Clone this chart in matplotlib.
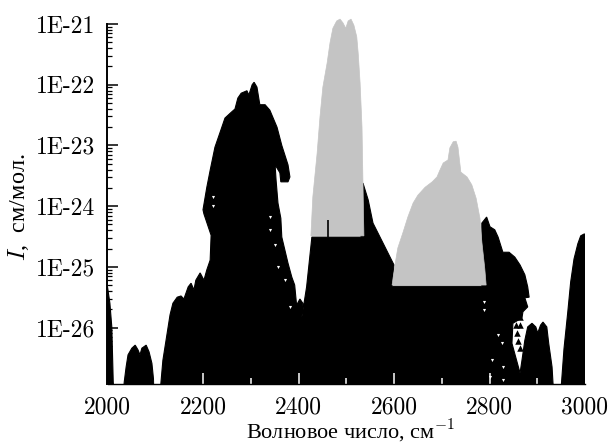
import numpy as np
import matplotlib
matplotlib.use('Agg')
import matplotlib.pyplot as plt
from matplotlib.ticker import FixedLocator, NullFormatter

plt.rcParams['mathtext.fontset'] = 'cm'

# outlines of the line clouds, wavenumber and log10(intensity)
black_x = [2000, 2000, 2005, 2009, 2012, 2013, 2034, 2035, 2039, 2043, 2051, 2058, 2064, 2068, 2072, 2081, 2087, 2093, 2097, 2098,
           2111, 2112, 2116, 2125, 2131, 2137, 2146, 2154, 2160, 2169, 2175, 2181, 2185, 2194, 2202, 2208, 2215, 2217, 2202,
           2200, 2208, 2215, 2225, 2236, 2246, 2257, 2267, 2273, 2280, 2292, 2296, 2303, 2307, 2313, 2319, 2330, 2340, 2355,
           2365, 2378, 2382, 2378, 2363, 2361, 2351, 2353, 2357, 2363, 2365, 2378, 2386, 2392, 2396, 2403, 2409, 2407, 2417, 2428,
           2531, 2535, 2546, 2556, 2579, 2600, 2596, 2784, 2784, 2794, 2801, 2811, 2818, 2828, 2841, 2853, 2864, 2874, 2880, 2883,
           2874, 2880, 2870, 2868, 2849, 2847, 2864, 2868, 2874, 2880, 2889, 2897, 2901, 2907, 2912, 2920, 2924, 2931, 2933, 2935,
           2950, 2956, 2964, 2970, 2977, 2985, 2991, 2998, 3000, 3000]
black_e = [-27, -25.33, -25.60, -25.99, -26.9, -27, -27, -26.9, -26.65, -26.45, -26.34, -26.29, -26.37, -26.45, -26.34, -26.29, -26.40, -26.59, -26.9, -27,
           -27, -26.9, -26.54, -26.09, -25.79, -25.60, -25.50, -25.48, -25.53, -25.33, -25.27, -25.38, -25.22, -25.10, -25.22, -25.05, -24.89, -24.48, -24.13,
           -24.06, -23.69, -23.41, -23.03, -22.78, -22.55, -22.47, -22.40, -22.22, -22.14, -22.10, -22.17, -22.00, -21.96, -22.04, -22.33, -22.33, -22.42, -22.70,
           -23.00, -23.32, -23.52, -23.60, -23.60, -23.45, -23.32, -23.57, -23.95, -24.20, -24.51, -24.94, -25.17, -25.30, -25.63, -25.53, -25.60, -25.83, -25.33, -24.51,
           -24.51, -23.62, -23.90, -24.28, -24.64, -24.97, -25.32, -25.32, -24.28, -24.18, -24.34, -24.39, -24.51, -24.76, -24.76, -24.84, -24.97, -25.13, -25.33, -25.50,
           -25.51, -25.66, -25.74, -25.84, -25.93, -26.26, -26.75, -26.54, -26.21, -25.99, -25.93, -25.99, -26.09, -25.96, -25.91, -25.99, -26.26, -26.65, -26.92, -27,
           -27, -26.35, -25.74, -25.25, -24.87, -24.62, -24.49, -24.46, -24.46, -27]

gray1_x = [2426, 2430, 2439, 2445, 2451, 2460, 2466, 2472, 2480, 2487, 2493, 2499, 2504, 2510, 2516, 2522, 2525, 2529, 2533, 2535, 2537]
gray1_e = [-24.49, -23.85, -23.13, -22.53, -22.04, -21.64, -21.31, -21.07, -20.95, -20.92, -20.98, -21.07, -20.95, -20.92,
           -21.02, -21.21, -21.48, -21.97, -22.70, -23.62, -24.49]
gray2_x = [2596, 2602, 2608, 2619, 2629, 2640, 2650, 2665, 2680, 2690, 2696, 2703, 2713, 2717, 2724, 2730, 2734, 2740, 2753, 2763,
           2772, 2780, 2784, 2790, 2793]
gray2_e = [-25.30, -24.97, -24.69, -24.43, -24.18, -23.95, -23.82, -23.69, -23.60, -23.52, -23.41, -23.29, -23.24, -23.04, -22.94,
           -22.93, -23.03, -23.44, -23.52, -23.65, -23.87, -24.20, -24.59, -25.02, -25.30]

# single lines that stand apart at the edge of the cloud
tri_x = [2864, 2864, 2855, 2857, 2860, 2864]
tri_e = [-25.83, -25.96, -25.96, -26.09, -26.22, -26.34]
# thin black spike showing through the gray band
spike_x = [2462]
spike_lo = [-24.51]
spike_hi = [-24.23]
# holes in the cloud
gap_x = [2221, 2221, 2340, 2340, 2351, 2357, 2372, 2382, 2788, 2788, 2818, 2826, 2805, 2828, 2801, 2828]
gap_e = [-23.85, -24.0, -24.18, -24.39, -24.64, -25.00, -25.21, -25.66, -25.71, -25.58, -26.12, -26.26, -26.53, -26.65, -26.82, -26.87]

x_major = [2000, 2200, 2400, 2600, 2800, 3000]
x_minor = [2100, 2300, 2500, 2700, 2900]
y_major = [1e-21, 1e-22, 1e-23, 1e-24, 1e-25, 1e-26]
y_labels = ['1E-21', '1E-22', '1E-23', '1E-24', '1E-25', '1E-26']


def to_i(e):
    return 10.0 ** np.array(e)


fig = plt.figure(figsize=(6.12, 4.45), dpi=100)
ax = fig.add_axes([107.5 / 612, (445 - 384) / 445, 477.5 / 612, 367 / 445])
ax.set_yscale('log')

ax.fill(black_x, to_i(black_e), color='black', lw=0.8, zorder=1)
ax.fill(gray1_x, to_i(gray1_e), color='#c4c4c4', lw=0.5, zorder=2)
ax.fill(gray2_x, to_i(gray2_e), color='#c4c4c4', lw=0.5, zorder=2)
ax.vlines(spike_x, to_i(spike_lo), to_i(spike_hi), color='black', lw=1.2, zorder=3)
ax.scatter(tri_x, to_i(tri_e), marker='^', s=22, color='black', lw=0, zorder=3)
ax.scatter(gap_x, to_i(gap_e), marker='v', s=5, color='white', lw=0, zorder=3)

ax.set_xlim(2000, 3000)
ax.set_ylim(10 ** -26.93, 10 ** -20.885)

ax.spines['top'].set_visible(False)
ax.spines['right'].set_visible(False)
ax.spines['left'].set_linewidth(1.4)
ax.spines['left'].set_bounds(10 ** -26.93, 1e-21)
ax.spines['bottom'].set_linewidth(1.0)
ax.spines['left'].set_zorder(5)
ax.spines['bottom'].set_zorder(5)

ax.xaxis.set_major_locator(FixedLocator(x_major))
ax.xaxis.set_minor_locator(FixedLocator(x_minor))
ax.xaxis.set_minor_formatter(NullFormatter())
ax.set_xticklabels(['%d' % v for v in x_major], family='cmr10', fontsize=17)
ax.tick_params(axis='x', which='major', direction='in', length=8, width=1.1, color='white', pad=9)
ax.tick_params(axis='x', which='minor', direction='in', length=4.3, width=1.1, color='white')
ax.xaxis.get_major_ticks()[0].tick1line.set_visible(False)
ax.xaxis.get_major_ticks()[-1].tick1line.set_visible(False)

ax.yaxis.set_major_locator(FixedLocator(y_major))
y_minor = [m * v for v in y_major[1:] + [1e-27] for m in range(2, 10)]
ax.yaxis.set_minor_locator(FixedLocator(y_minor))
ax.yaxis.set_minor_formatter(NullFormatter())
ax.set_yticklabels(y_labels, family='cmr10', fontsize=17)
ax.tick_params(axis='y', which='major', direction='in', length=8, width=1.1, color='black', pad=9)
ax.tick_params(axis='y', which='minor', direction='in', length=3.8, width=0.9, color='black')

fig.text(351 / 612, 1 - 431 / 445, 'Волновое число, см$^{-1}$', family='Liberation Serif', fontsize=16,
         ha='center', va='center')
fig.text(19 / 612, 1 - 207 / 445, '$I$,  см/мол.', family='Liberation Serif', fontsize=17.5,
         rotation=90, ha='center', va='center')

fig.savefig('out.png', dpi=100)
